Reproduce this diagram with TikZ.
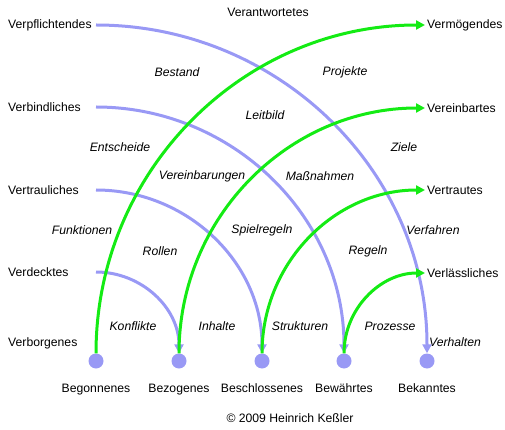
\documentclass[tikz,border=0pt]{standalone}
\usepackage{fontspec}
\setmainfont{Liberation Sans}
\usepackage{xcolor}
\usetikzlibrary{
    arrows.meta,
    positioning
}

\definecolor{lila}{RGB}{153,153,245}
\definecolor{gruen}{RGB}{20,235,20}

\begin{document}
\begin{tikzpicture}[
        x=1pt, y=-1pt,
        font=\fontsize{12.2}{14}\selectfont,
        dot/.style={
            circle,
            fill=lila,
            minimum size=15pt,
            inner sep=0pt
        },
        word/.style={
            inner sep=2pt
        },
        cue/.style={
            inner sep=1pt,
            font=\fontsize{12.2}{14}\selectfont\itshape
        },
        blueline/.style={
            draw=lila,
            line width=3pt,
            -{Triangle[length=9pt,width=9pt]}
        },
        greenline/.style={
            draw=gruen,
            line width=3pt,
            -{Triangle[length=9pt,width=9pt]}
        }
    ]
    \useasboundingbox (0,0) rectangle (505,430);

    % bottom row
    \node[dot] (beg) at (96,361) {};
    \node[dot] (bez) at (179,361) {};
    \node[dot] (bes) at (262,361) {};
    \node[dot] (bew) at (344,361) {};
    \node[dot] (bek) at (427,361) {};

    \node[word, below=13pt of beg] (tbeg) {Begonnenes};
    \node[word, below=13pt of bez] (tbez) {Bezogenes};
    \node[word, below=13pt of bes] (tbes) {Beschlossenes};
    \node[word, below=13pt of bew] (tbew) {Bewährtes};
    \node[word, below=13pt of bek] (tbek) {Bekanntes};

    % left side
    \node[word, anchor=west] (vpfl) at (6,25) {Verpflichtendes};
    \node[word, anchor=west] (vbin) at (6,107) {Verbindliches};
    \node[word, anchor=west] (vtra) at (6,190) {Vertrauliches};
    \node[word, anchor=west] (vdec) at (6,272) {Verdecktes};
    \node[word, anchor=west] (vbor) at (6,343) {Verborgenes};

    % right side
    \node[word, anchor=west] (vmoe) at (425,25) {Vermögendes};
    \node[word, anchor=west] (vein) at (425,108) {Vereinbartes};
    \node[word, anchor=west] (vtrt) at (425,190) {Vertrautes};
    \node[word, anchor=west] (vlae) at (425,273) {Verlässliches};

    % inner words
    \node[word] (vant) at (268,12) {Verantwortetes};
    \node[cue] (best) at (177,72) {Bestand};
    \node[cue] (proj) at (345,72) {Projekte};
    \node[cue] (leit) at (265,115) {Leitbild};
    \node[cue] (ents) at (120,147) {Entscheide};
    \node[cue] (ziel) at (404,147) {Ziele};
    \node[cue] (vbar) at (202,176) {Vereinbarungen};
    \node[cue] (mass) at (320,176) {Maßnahmen};
    \node[cue] (funk) at (82,230) {Funktionen};
    \node[cue] (spie) at (262,230) {Spielregeln};
    \node[cue] (verf) at (433,230) {Verfahren};
    \node[cue] (roll) at (160,251) {Rollen};
    \node[cue] (rege) at (368,251) {Regeln};
    \node[cue] (konf) at (133,326) {Konflikte};
    \node[cue] (inha) at (217,326) {Inhalte};
    \node[cue] (stru) at (300,326) {Strukturen};
    \node[cue] (proz) at (390,326) {Prozesse};
    \node[cue] (verh) at (455,342) {Verhalten};

    \node[word] (copy) at (290,418) {© 2009 Heinrich Keßler};

    % from the left down to the dots
    \draw[blueline] (beg |- vpfl) to[out=0, in=90] (bek.north);
    \draw[blueline] (beg |- vbin) to[out=0, in=90] (bew.north);
    \draw[blueline] (beg |- vtra) to[out=0, in=90] (bes.north);
    \draw[blueline] (beg |- vdec) to[out=0, in=90] (bez.north);

    % from the dots up to the right
    \draw[greenline] (beg.north) to[out=90, in=180] (vmoe.west);
    \draw[greenline] (bez.north) to[out=90, in=180] (vein.west);
    \draw[greenline] (bes.north) to[out=90, in=180] (vtrt.west);
    \draw[greenline] (bew.north) to[out=90, in=180] (vlae.west);

\end{tikzpicture}
\end{document}
